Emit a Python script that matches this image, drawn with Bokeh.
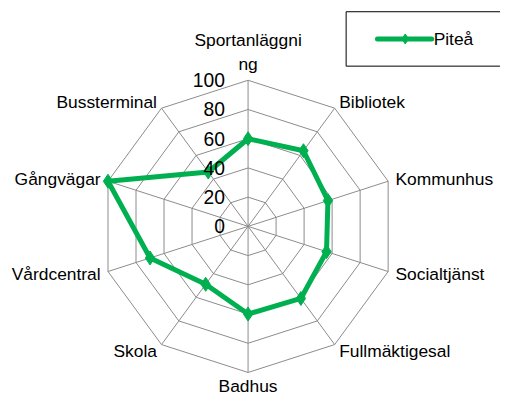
import numpy as np
from bokeh.plotting import figure
from bokeh.models import Range1d, ColumnDataSource
from bokeh.core.properties import value
from bokeh.embed import file_html
from bokeh.resources import INLINE

# ---- data ----
categories = ["Sportanläggni\nng", "Bibliotek", "Kommunhus", "Socialtjänst", "Fullmäktigesal",
              "Badhus", "Skola", "Vårdcentral", "Gångvägar", "Bussterminal"]
pitea = [60, 64, 57, 56, 61, 60, 49, 70, 100, 46]
tick_values = [0, 20, 40, 60, 80, 100]
tick_labels = ["0", "20", "40", "60", "80", "100"]
series_name = "Piteå"

GREEN = "#00B050"
GRID = "#8C8C8C"
FONT = value("Liberation Sans")

# ---- layout: reference is 516x412, figure is 500x396 ----
W, H = 500, 396
SX, SY = W / 516, H / 412
S = (SX + SY) / 2
R_PX = 152.0                 # reference pixels for value 100
CX, CY = 255.5, 235.0        # reference pixel of centre
KX = R_PX * SX / 100         # figure px per unit in x
KY = R_PX * SY / 100
x0 = -(CX * SX) / KX
x1 = x0 + W / KX
y1 = (CY * SY) / KY
y0 = y1 - H / KY

def px_x(px):
    return x0 + px * SX / KX

def px_y(py):
    return y1 - py * SY / KY

def fs(px):
    return f"{px * S:.1f}px"

p = figure(width=W, height=H, output_backend="svg", toolbar_location=None,
           x_range=Range1d(x0, x1), y_range=Range1d(y0, y1),
           x_axis_type=None, y_axis_type=None, min_border=0)
p.outline_line_color = None
p.grid.visible = False
p.background_fill_color = "white"

n = len(categories)
theta = np.arange(n) * 2 * np.pi / n
sx, cy = np.sin(theta), np.cos(theta)
rmax = tick_values[-1]

# rings
for t in tick_values[1:]:
    xs = list(t * sx) + [t * sx[0]]
    ys = list(t * cy) + [t * cy[0]]
    p.line(xs, ys, line_color=GRID, line_width=1)
# spokes
p.multi_line([[0, rmax * s] for s in sx], [[0, rmax * c] for c in cy],
             line_color=GRID, line_width=1)

# data series
vals = np.array(pitea, dtype=float)
dx = vals * sx
dy = vals * cy
p.line(list(dx) + [dx[0]], list(dy) + [dy[0]], line_color=GREEN, line_width=5,
       line_join="round")
p.scatter(dx, dy, marker="diamond", size=14, fill_color=GREEN, line_color=GREEN)

# tick labels
p.text(x=[0] * len(tick_values), y=tick_values, text=tick_labels, x_offset=-24 * S,
       text_align="right", text_baseline="middle", text_font=FONT,
       text_font_size=fs(20), text_color="black")

# category labels
d = 8.0 * S
lh = 10.8 * S
lx, ly, xo, yo, al = [], [], [], [], []
for i, lab in enumerate(categories):
    s, c = sx[i], cy[i]
    lx.append(rmax * s)
    ly.append(rmax * c)
    nl = lab.count("\n") + 1
    if abs(s) < 0.1:
        off = d + nl * lh
        if c < 0:
            off -= 5  # keep bottom label inside the canvas
        xo.append(0)
        yo.append(-off * c)
        al.append("center")
    else:
        xo.append(d * s)
        yo.append(-d * c)
        al.append("left" if s > 0 else "right")
src = ColumnDataSource(dict(x=lx, y=ly, text=categories, xo=xo, yo=yo, al=al))
p.text(x="x", y="y", text="text", x_offset="xo", y_offset="yo", text_align="al",
       text_baseline="middle", text_font=FONT, text_font_size=fs(18),
       text_color="black", text_line_height=1.2, source=src)

# legend (drawn manually)
p.quad(left=px_x(356.7), right=px_x(560), top=px_y(11.7), bottom=px_y(68.3),
       fill_color="white", line_color="black", line_width=1)
p.line([px_x(389), px_x(445)], [px_y(40), px_y(40)], line_color=GREEN, line_width=5,
       line_cap="round")
p.scatter([px_x(417.7)], [px_y(40)], marker="diamond", size=10, fill_color=GREEN,
          line_color=GREEN)
p.text(x=[px_x(447)], y=[px_y(40)], text=[series_name], text_align="left",
       text_baseline="middle", text_font=FONT, text_font_size=fs(18), text_color="black")

open("out.html", "w").write(file_html(p, INLINE))
